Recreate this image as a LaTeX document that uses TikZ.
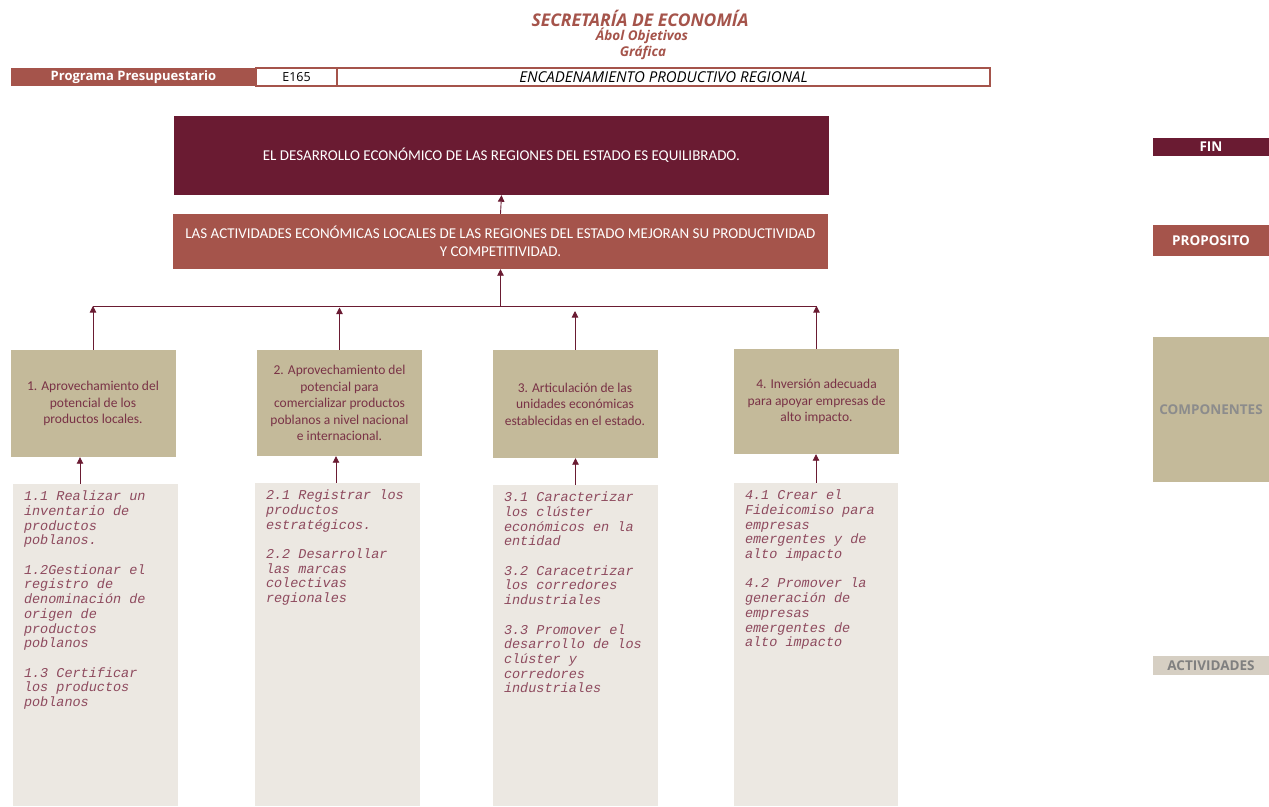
\documentclass[tikz,border=0pt]{standalone}
\usepackage{fontspec}
\setmainfont{Carlito}
\setmonofont{Liberation Mono}
\newfontfamily\cabeza{Open Sans}
\usetikzlibrary{arrows.meta}
\definecolor{guinda}{HTML}{6A1B32}
\definecolor{cafe}{HTML}{A5544B}
\definecolor{arena}{HTML}{C4BA9A}
\definecolor{hueso}{HTML}{ECE8E2}
\definecolor{gris}{HTML}{D6CFC3}
\definecolor{textoact}{HTML}{8E4A5E}

\begin{document}
\begin{tikzpicture}[x=1pt,y=-1pt]
			\tikzstyle{every node}=[inner sep=0pt,align=center]
			\tikzstyle{flecha}=[draw=guinda,line width=0.9pt,-{Triangle[width=6.5pt,length=6.5pt]}]
			\tikzstyle{linea}=[draw=guinda,line width=0.9pt]
			\tikzstyle{nivel}=[minimum width=655pt,text=white,font=\fontsize{15}{18}\selectfont]
			\tikzstyle{componente}=[fill=arena,minimum width=165pt,text=guinda!90,font=\fontsize{13.5}{16.5}\selectfont]
			\tikzstyle{actividad}=[fill=hueso,minimum width=165pt]
			\tikzstyle{listado}=[anchor=north west,align=left,text=textoact,font=\ttfamily\itshape\fontsize{13.5}{14.7}\selectfont]
			\tikzstyle{etiqueta}=[minimum width=116pt,font=\cabeza\bfseries\fontsize{13.5}{15}\selectfont]
			\tikzstyle{encabezado}=[text=cafe,font=\cabeza\bfseries\itshape\fontsize{13.5}{15}\selectfont]
			\useasboundingbox (0,0) rectangle (1269,806);
			\node[encabezado,font=\cabeza\bfseries\itshape\fontsize{17.5}{19}\selectfont] (titulo) at (640,18) {SECRETARÍA DE ECONOMÍA};
			\node[encabezado] (subtitulo) at (642,35.5) {Ábol Objetivos};
			\node[encabezado] (grafica) at (643,52.5) {Gráfica};
			\node[fill=cafe,text=white,minimum width=245pt,minimum height=18pt,font=\cabeza\bfseries\fontsize{13}{14}\selectfont] (programa) at (133.5,77) {Programa Presupuestario};
			\node[draw=cafe,line width=1.2pt,minimum width=81pt,minimum height=18pt,font=\cabeza\fontsize{12.5}{14}\selectfont] (clave) at (296.5,77) {E165};
			\node[draw=cafe,line width=1.2pt,minimum width=653pt,minimum height=18pt,font=\cabeza\itshape\fontsize{15}{16}\selectfont] (nombre) at (663.5,77) {ENCADENAMIENTO PRODUCTIVO REGIONAL};
			\node[nivel,fill=guinda,minimum height=79pt] (fin) at (501.5,155.5) {EL DESARROLLO ECONÓMICO DE LAS REGIONES DEL ESTADO ES EQUILIBRADO.};
			\node[nivel,fill=cafe,minimum height=55pt] (proposito) at (500.5,241.5) {LAS ACTIVIDADES ECONÓMICAS LOCALES DE LAS REGIONES DEL ESTADO MEJORAN SU PRODUCTIVIDAD\\ Y COMPETITIVIDAD.};
			\node[componente,minimum height=107pt] (c1) at (93,403.5) {1. Aprovechamiento del\\ potencial de los\\ productos locales.};
			\node[componente,minimum height=106pt] (c2) at (339.5,403) {2. Aprovechamiento del\\ potencial para\\ comercializar productos\\ poblanos a nivel nacional\\ e internacional.};
			\node[componente,minimum height=108pt] (c3) at (575,404) {3. Articulación de las\\ unidades económicas\\ establecidas en el estado.};
			\node[componente,minimum height=105pt] (c4) at (816.5,401.5) {4. Inversión adecuada\\ para apoyar empresas de\\ alto impacto.};
			\node[actividad,minimum height=322pt] (a1) at (95.5,645) {};
			\node[actividad,minimum height=323pt] (a2) at (337.5,644.5) {};
			\node[actividad,minimum height=321pt] (a3) at (575.5,645.5) {};
			\node[actividad,minimum height=323pt,minimum width=164pt] (a4) at (816,644.5) {};
			\node[listado] (l1) at ([shift={(11pt,-7pt)}]a1.north west) {1.1 Realizar un\\ inventario de\\ productos\\ poblanos.\\[14.7pt] 1.2Gestionar el\\ registro de\\ denominación de\\ origen de\\ productos\\ poblanos\\[14.7pt] 1.3 Certificar\\ los productos\\ poblanos};
			\node[listado] (l2) at ([shift={(11pt,-7pt)}]a2.north west) {2.1 Registrar los\\ productos\\ estratégicos.\\[14.7pt] 2.2 Desarrollar\\ las marcas\\ colectivas\\ regionales};
			\node[listado] (l3) at ([shift={(11pt,-7pt)}]a3.north west) {3.1 Caracterizar\\ los clúster\\ económicos en la\\ entidad\\[14.7pt] 3.2 Caracetrizar\\ los corredores\\ industriales\\[14.7pt] 3.3 Promover el\\ desarrollo de los\\ clúster y\\ corredores\\ industriales};
			\node[listado] (l4) at ([shift={(11pt,-7pt)}]a4.north west) {4.1 Crear el\\ Fideicomiso para\\ empresas\\ emergentes y de\\ alto impacto\\[14.7pt] 4.2 Promover la\\ generación de\\ empresas\\ emergentes de\\ alto impacto};
			\node[etiqueta,fill=guinda,text=white,minimum height=18pt] (efin) at (1211,147) {FIN};
			\node[etiqueta,fill=cafe,text=white,minimum height=31pt] (eproposito) at (1211,240.5) {PROPOSITO};
			\node[etiqueta,fill=arena,text=black!45,minimum height=145pt] (ecomponentes) at (1211,409.5) {COMPONENTES};
			\node[etiqueta,fill=gris,text=black!50,minimum height=19pt] (eactividades) at (1211,665.5) {ACTIVIDADES};
			\coordinate (bus) at (500.5,306);
			\draw[flecha] (proposito.north) -- (fin.south);
			\draw[flecha] (bus) -- (proposito.south);
			\draw[linea] (c1.north |- bus) -- (c4.north |- bus);
			\draw[flecha] (c1.north) -- (c1.north |- bus);
			\draw[flecha] (c2.north) -- ([yshift=-1.5pt]c2.north |- bus);
			\draw[flecha] (c3.north) -- ([yshift=-5pt]c3.north |- bus);
			\draw[flecha] (c4.north) -- (c4.north |- bus);
			\draw[flecha] ([xshift=-15.5pt]a1.north) -- ([xshift=-15.5pt]a1.north |- c1.south);
			\draw[flecha] ([xshift=-1.5pt]a2.north) -- ([xshift=-1.5pt]a2.north |- c2.south);
			\draw[flecha] (a3.north) -- (a3.north |- c3.south);
			\draw[flecha] (a4.north) -- (a4.north |- c4.south);
\end{tikzpicture}
\end{document}
